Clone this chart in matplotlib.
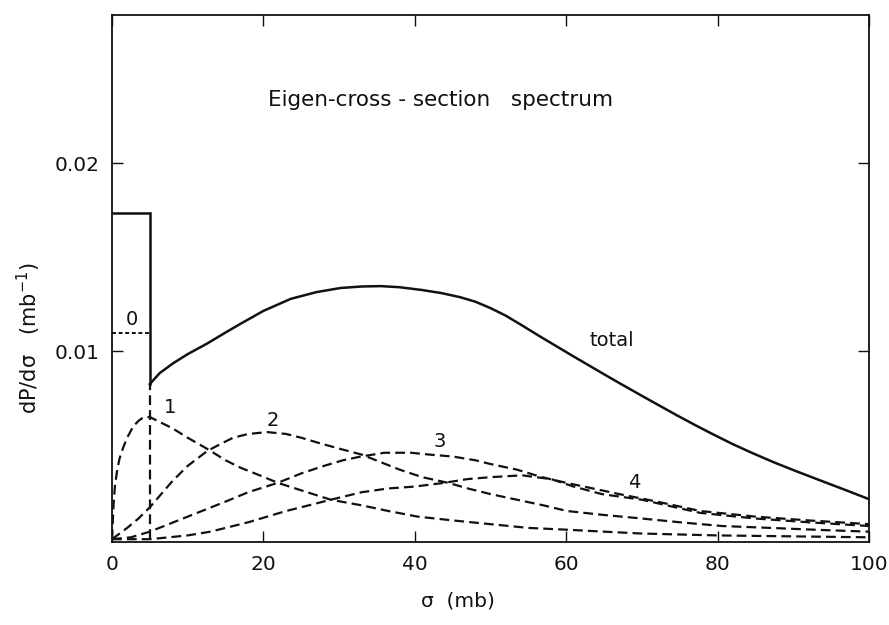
import matplotlib
matplotlib.use("Agg")
import matplotlib.pyplot as plt

# ---- data ----
total_flat_x = [0, 5]
total_flat_y = [0.01737, 0.01737]
total_x = [5, 6.3, 8.1, 10, 12.6, 15, 17, 20, 23.6, 27, 30.2, 33, 35.5, 38, 41, 43.5, 46, 48, 50,
           52, 54, 56.5, 58.5, 61, 63, 65.5, 67.5, 70, 72, 74.5, 77, 79.5, 82, 84.5, 87.5, 90.5,
           94, 97, 100]
total_y = [0.00826, 0.00884, 0.00937, 0.00985, 0.01042, 0.01100, 0.01147, 0.01215, 0.01279,
           0.01315, 0.01337, 0.01345, 0.01347, 0.01341, 0.01326, 0.01310, 0.01288, 0.01264,
           0.01230, 0.01190, 0.01142, 0.01080, 0.01032, 0.00972, 0.00925, 0.00866, 0.00820,
           0.00763, 0.00718, 0.00662, 0.00608, 0.00556, 0.00506, 0.00460, 0.00408, 0.00360,
           0.00306, 0.00260, 0.00213]

c0_x = [0, 5]
c0_y = [0.01095, 0.01095]

c1_x = [0, 0.2, 0.4, 0.7, 1.0, 1.5, 2.0, 2.8, 3.5, 4.2, 5.0, 6.5, 8.0, 10, 12.6, 15, 17, 19.5, 21.9,
        25, 28.9, 33, 36.5, 40.4, 45, 50, 55, 60.3, 65, 70, 80, 90, 100]
c1_y = [0, 0.0018, 0.0029, 0.0037, 0.0043, 0.0049, 0.0054, 0.0060, 0.0063, 0.0065, 0.0065, 0.0062,
        0.0059, 0.0054, 0.0048, 0.0042, 0.0038, 0.0034, 0.0030,
        0.0026, 0.0021, 0.0018, 0.0015, 0.0012, 0.0010, 0.0008, 0.0006, 0.0005, 0.0004, 0.0003,
        0.0002, 0.00015, 0.0001]

cut_x = 5
cut_top = 0.00826

c2_x = [0, 2, 3.5, 5, 6.5, 8, 10, 12.6, 14.5, 16, 18, 20.5, 23, 25, 27.5, 30.2, 33, 35.5, 38, 41,
        44.4, 47, 50, 53.5, 57, 60.1, 64.7, 70, 75, 80.6, 87, 93, 100]
c2_y = [0, 0.0006, 0.0011, 0.0017, 0.0024, 0.0031, 0.0039, 0.0047, 0.0051, 0.0054, 0.0056, 0.0057,
        0.0056, 0.0054, 0.0051, 0.0048, 0.0045, 0.0041, 0.0037, 0.0033,
        0.0030, 0.0027, 0.0024, 0.0021, 0.0018, 0.0015, 0.0013, 0.0011, 0.0009, 0.0007, 0.0006,
        0.0005, 0.0004]

c3_x = [0, 2.5, 5, 7.5, 10, 12.5, 15, 18, 21.9, 25, 28, 30.5, 32.9, 36, 39.5, 42, 45, 48, 50, 53.5,
        56.8, 60, 64.7, 67, 72, 77.7, 85, 92, 100]
c3_y = [0, 0.0001, 0.0004, 0.0008, 0.0012, 0.0016, 0.0020, 0.0025, 0.0030, 0.0035, 0.0039, 0.0042,
        0.0044, 0.0046, 0.0046, 0.0045, 0.0044, 0.0042, 0.0040, 0.0037,
        0.0033, 0.0030, 0.0026, 0.0024, 0.0020, 0.0015, 0.0012, 0.0010, 0.0008]

c4_x = [0, 5, 10, 13, 15, 18, 20.5, 23, 25, 28.9, 33, 36.5, 40, 43.9, 47, 50, 54.2, 56, 58, 61,
        64.7, 70, 77.7, 85, 92, 100]
c4_y = [0, 0.0000, 0.0002, 0.0004, 0.0006, 0.0009, 0.0012, 0.0015, 0.0017, 0.0021, 0.0025, 0.0027,
        0.0028, 0.0030, 0.0032, 0.0033, 0.0034, 0.0033, 0.0032, 0.0028,
        0.0024, 0.0021, 0.0014, 0.0011, 0.0009, 0.0007]

xticks = [0, 20, 40, 60, 80, 100]
xticklabels = ["0", "20", "40", "60", "80", "100"]
yticks = [0.01, 0.02]
yticklabels = ["0.01", "0.02"]

curve_labels = ["0", "1", "2", "3", "4", "total"]
label_x = [2.6, 7.7, 21.3, 43.3, 69.0, 66.0]
label_y = [0.0117, 0.0070, 0.0063, 0.0052, 0.0030, 0.0106]

title_text = "Eigen-cross - section   spectrum"

# ---- figure ----
plt.rcParams['font.family'] = ['DejaVu Sans']
fig = plt.figure(figsize=(8.89, 6.25), dpi=100)
ax = fig.add_axes([112/889, (625-542)/625, (869-112)/889, (542-15)/625])

ink = "#111111"
lw_dash = 1.6
dash = (4.4, 2.3)

ax.plot(total_flat_x, total_flat_y, color=ink, lw=1.8, solid_capstyle="butt")
ax.plot([cut_x, cut_x], [total_flat_y[-1], cut_top], color=ink, lw=1.8)
ax.plot(total_x, total_y, color=ink, lw=1.8)

ax.plot(c0_x, c0_y, color=ink, lw=1.4, dashes=(2.0, 1.4))
ax.plot([cut_x, cut_x], [0, cut_top], color=ink, lw=lw_dash, dashes=dash)
for xs, ys in [(c1_x, c1_y), (c2_x, c2_y), (c3_x, c3_y), (c4_x, c4_y)]:
    ax.plot(xs, ys, color=ink, lw=lw_dash, dashes=dash)

for t, x, y in zip(curve_labels, label_x, label_y):
    ax.text(x, y, t, fontsize=14, ha="center", va="center", color=ink)

ax.text(20.6, 0.0234, title_text, fontsize=15.5, ha="left", va="center", color=ink)

ax.set_xlim(0, 100)
ax.set_ylim(-0.00015, 0.0279)
ax.set_xticks(xticks)
ax.set_xticklabels(xticklabels)
ax.set_yticks(yticks)
ax.set_yticklabels(yticklabels)
ax.tick_params(direction="in", length=8, width=1.0, labelsize=14.5, colors=ink,
               top=True, right=True, pad=9)
for s in ax.spines.values():
    s.set_linewidth(1.3)
    s.set_color(ink)

fig.text(458/889, 1 - 601/625, "σ  (mb)", fontsize=14.5, ha="center", va="center", color=ink)
fig.text(29/889, 1 - 338/625, "dP/dσ   (mb$^{-1}$)", fontsize=15, ha="center", va="center",
         rotation=90, color=ink)

fig.savefig("out.png", dpi=100, facecolor="white")
